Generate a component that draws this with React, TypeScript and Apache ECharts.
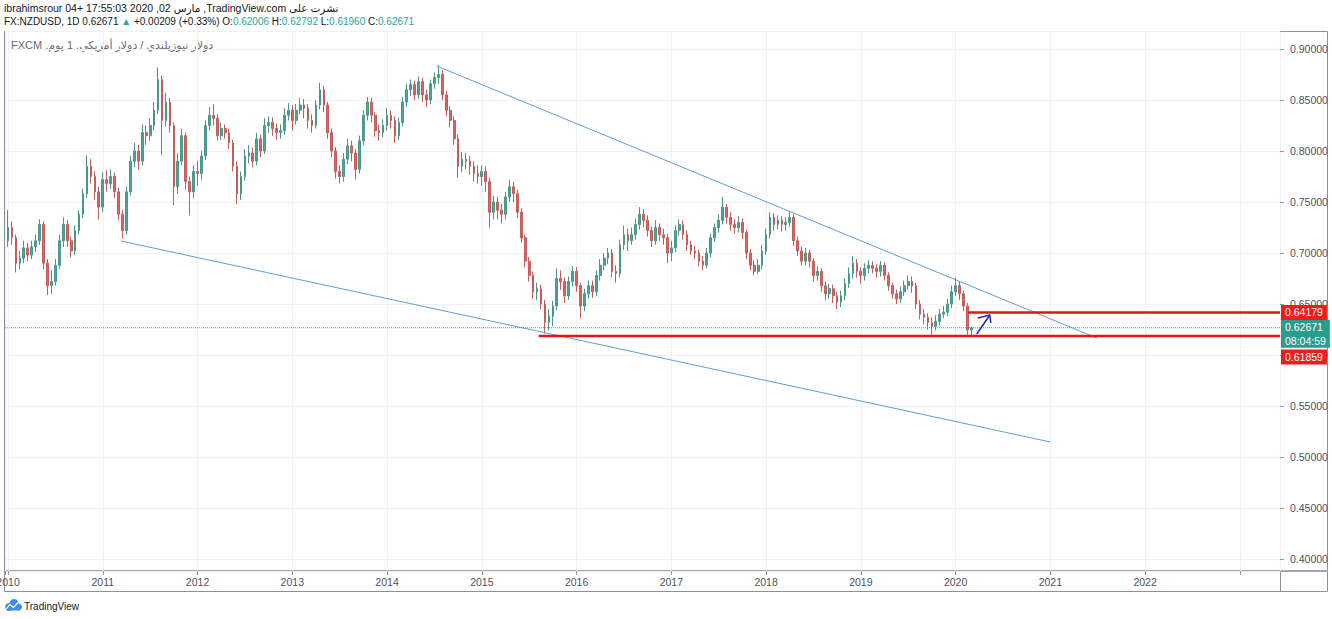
import React, { useEffect, useRef } from 'react';
import * as echarts from 'echarts';

// ---- data ----
const startYear = 2010;
const candlesPerYear = 24; // half-month candles
const firstOpen = 0.712;
// [close, low, high] per half-month candle
const y2010 = [[0.725,0.706,0.742],[0.715,0.708,0.731],[0.690,0.681,0.718],[0.695,0.684,0.702],[0.705,0.690,0.712],[0.698,0.692,0.710],[0.706,0.694,0.712],[0.712,0.701,0.718],[0.728,0.708,0.733],[0.690,0.684,0.731],[0.668,0.659,0.694],[0.672,0.660,0.683],[0.688,0.668,0.694],[0.712,0.684,0.718],[0.728,0.706,0.735],[0.712,0.706,0.732],[0.702,0.696,0.716],[0.722,0.698,0.727],[0.738,0.718,0.742],[0.758,0.734,0.763],[0.785,0.754,0.796],[0.775,0.768,0.792],[0.760,0.752,0.780],[0.745,0.733,0.765]];
const y2011 = [[0.772,0.740,0.779],[0.768,0.760,0.781],[0.775,0.763,0.782],[0.760,0.754,0.779],[0.738,0.732,0.764],[0.722,0.714,0.742],[0.760,0.718,0.765],[0.790,0.756,0.795],[0.800,0.784,0.808],[0.790,0.782,0.806],[0.818,0.786,0.826],[0.815,0.806,0.825],[0.825,0.810,0.832],[0.840,0.820,0.848],[0.870,0.836,0.882],[0.830,0.796,0.874],[0.848,0.824,0.857],[0.825,0.818,0.852],[0.765,0.747,0.828],[0.790,0.758,0.798],[0.815,0.786,0.822],[0.770,0.762,0.818],[0.760,0.737,0.775],[0.780,0.754,0.786]];
const y2012 = [[0.778,0.766,0.790],[0.795,0.772,0.800],[0.825,0.791,0.830],[0.835,0.820,0.843],[0.832,0.825,0.846],[0.815,0.810,0.836],[0.822,0.811,0.828],[0.818,0.812,0.826],[0.808,0.802,0.822],[0.785,0.780,0.811],[0.758,0.748,0.790],[0.775,0.752,0.780],[0.795,0.771,0.802],[0.798,0.788,0.806],[0.790,0.784,0.803],[0.812,0.786,0.818],[0.800,0.794,0.816],[0.825,0.797,0.832],[0.828,0.818,0.834],[0.822,0.815,0.833],[0.818,0.811,0.827],[0.820,0.812,0.826],[0.835,0.816,0.842],[0.840,0.830,0.847]];
const y2013 = [[0.830,0.820,0.845],[0.840,0.826,0.846],[0.845,0.836,0.852],[0.842,0.832,0.851],[0.830,0.822,0.846],[0.825,0.818,0.836],[0.845,0.822,0.850],[0.860,0.841,0.867],[0.845,0.838,0.864],[0.818,0.812,0.848],[0.800,0.794,0.822],[0.780,0.773,0.804],[0.775,0.768,0.786],[0.792,0.770,0.798],[0.805,0.787,0.812],[0.798,0.790,0.810],[0.782,0.772,0.802],[0.810,0.778,0.815],[0.835,0.806,0.840],[0.848,0.830,0.853],[0.835,0.828,0.852],[0.820,0.814,0.838],[0.818,0.810,0.826],[0.825,0.813,0.831]];
const y2014 = [[0.835,0.820,0.842],[0.830,0.822,0.840],[0.815,0.808,0.834],[0.828,0.811,0.833],[0.848,0.824,0.853],[0.860,0.843,0.866],[0.865,0.854,0.870],[0.855,0.850,0.869],[0.868,0.851,0.873],[0.855,0.848,0.872],[0.850,0.843,0.860],[0.866,0.846,0.870],[0.872,0.861,0.877],[0.875,0.866,0.884],[0.855,0.850,0.879],[0.840,0.834,0.859],[0.830,0.823,0.844],[0.812,0.806,0.834],[0.785,0.774,0.816],[0.792,0.779,0.799],[0.790,0.782,0.798],[0.785,0.777,0.795],[0.778,0.770,0.790],[0.775,0.768,0.786]];
const y2015 = [[0.780,0.766,0.786],[0.770,0.760,0.785],[0.740,0.725,0.774],[0.750,0.733,0.756],[0.742,0.733,0.755],[0.738,0.729,0.748],[0.755,0.733,0.760],[0.765,0.750,0.772],[0.758,0.750,0.770],[0.740,0.734,0.762],[0.715,0.710,0.744],[0.692,0.686,0.718],[0.678,0.672,0.696],[0.662,0.655,0.682],[0.665,0.654,0.671],[0.650,0.645,0.669],[0.632,0.621,0.654],[0.638,0.624,0.645],[0.648,0.628,0.653],[0.675,0.644,0.685],[0.672,0.664,0.683],[0.658,0.651,0.676],[0.672,0.654,0.677],[0.682,0.667,0.687]];
const y2016 = [[0.668,0.662,0.686],[0.648,0.636,0.671],[0.660,0.643,0.665],[0.668,0.655,0.673],[0.662,0.656,0.673],[0.678,0.658,0.683],[0.688,0.673,0.694],[0.695,0.683,0.700],[0.700,0.689,0.705],[0.682,0.676,0.704],[0.680,0.671,0.688],[0.708,0.676,0.713],[0.718,0.703,0.727],[0.712,0.702,0.724],[0.718,0.708,0.725],[0.728,0.713,0.734],[0.738,0.723,0.745],[0.732,0.725,0.743],[0.722,0.716,0.737],[0.712,0.706,0.726],[0.725,0.708,0.732],[0.718,0.712,0.729],[0.715,0.708,0.724],[0.700,0.690,0.719]];
const y2017 = [[0.705,0.692,0.712],[0.722,0.701,0.727],[0.728,0.717,0.733],[0.718,0.713,0.732],[0.708,0.702,0.722],[0.702,0.698,0.712],[0.700,0.694,0.707],[0.692,0.687,0.703],[0.688,0.683,0.697],[0.700,0.685,0.705],[0.715,0.696,0.719],[0.725,0.711,0.729],[0.732,0.720,0.738],[0.745,0.728,0.755],[0.735,0.729,0.748],[0.728,0.722,0.740],[0.725,0.719,0.733],[0.730,0.720,0.736],[0.720,0.714,0.734],[0.700,0.694,0.723],[0.688,0.683,0.704],[0.682,0.678,0.693],[0.688,0.679,0.694],[0.702,0.684,0.708]];
const y2018 = [[0.718,0.698,0.724],[0.735,0.714,0.740],[0.728,0.722,0.739],[0.732,0.723,0.737],[0.728,0.721,0.736],[0.730,0.722,0.735],[0.735,0.726,0.741],[0.712,0.707,0.738],[0.702,0.697,0.716],[0.692,0.688,0.706],[0.700,0.688,0.705],[0.692,0.686,0.703],[0.678,0.672,0.695],[0.682,0.673,0.687],[0.668,0.662,0.685],[0.660,0.654,0.672],[0.665,0.655,0.670],[0.658,0.651,0.669],[0.652,0.645,0.662],[0.658,0.647,0.663],[0.670,0.654,0.675],[0.680,0.666,0.686],[0.690,0.675,0.697],[0.682,0.676,0.694]];
const y2019 = [[0.678,0.670,0.686],[0.685,0.673,0.690],[0.688,0.680,0.693],[0.685,0.680,0.692],[0.682,0.676,0.689],[0.688,0.677,0.692],[0.678,0.673,0.691],[0.668,0.663,0.681],[0.660,0.655,0.671],[0.655,0.650,0.664],[0.662,0.651,0.667],[0.668,0.658,0.673],[0.672,0.664,0.678],[0.668,0.661,0.677],[0.650,0.645,0.671],[0.640,0.635,0.654],[0.637,0.630,0.645],[0.632,0.625,0.641],[0.628,0.620,0.637],[0.633,0.624,0.639],[0.640,0.629,0.645],[0.642,0.636,0.648],[0.650,0.638,0.655],[0.662,0.646,0.668]];
const y2020 = [[0.668,0.658,0.676],[0.660,0.654,0.672],[0.648,0.643,0.663],[0.6246,0.620,0.651],[0.62671,0.6196,0.62792]];

const upperTrend = [[2014.525, 0.8833], [2021.49, 0.6167]];
const lowerTrend = [[2011.19, 0.7118], [2021.0, 0.5147]];
const resistance = 0.64179;
const resistanceFrom = 2020.13;
const support = 0.61859;
const supportFrom = 2015.6;
const lastPrice = 0.62671;
const countdown = '08:04:59';
const arrowShaft = [[2020.224, 0.6206], [2020.362, 0.6392]];
const arrowHead = [[2020.235, 0.6363], [2020.362, 0.6392], [2020.372, 0.6314]];

const X_MIN = 2009.968;
const X_MAX = 2023.424;
const Y_MIN = 0.38824;
const Y_MAX = 0.91765;
const LAST_YEAR_LABEL = 2022;

const headerLine1 = '\u202Bنشرت على TradingView.com, مارس 02, 2020 17:55:03 +04 ibrahimsrour\u202C';
const headerLine2 = 'FX:NZDUSD, 1D 0.62671 {t|▲} +0.00209 (+0.33%) O:{t|0.62006} H:{t|0.62792} L:{t|0.61960} C:{t|0.62671}';
const legendText = '\u202Bدولار نيوزيلندي / دولار أمريكي, 1 يوم, FXCM\u202C';

const FONT = "'Liberation Sans', 'DejaVu Sans', sans-serif";

export default function App() {
  const ref = useRef<HTMLDivElement>(null);
  useEffect(() => {
    document.body.style.margin = '0';
    if (!ref.current) return;
    const chart = echarts.init(ref.current, undefined, { renderer: 'svg' });
    const all = [...y2010, ...y2011, ...y2012, ...y2013, ...y2014, ...y2015, ...y2016, ...y2017, ...y2018, ...y2019, ...y2020];
    let prev = firstOpen;
    const candles = all.map((d, i) => {
      const o = prev;
      prev = d[0];
      return [startYear + i / candlesPerYear, o, d[0], d[1], d[2]];
    });
    const isMult = (v: number, s: number) => Math.abs(v / s - Math.round(v / s)) < 1e-6;
    const hline = (name: string, from: number, value: number, color: string, width: number, type: string, label: any) => ({
      name,
      type: 'line',
      data: [[from, value], [X_MAX, value]],
      symbol: 'none',
      silent: true,
      z: 5,
      lineStyle: { color, width, type },
      endLabel: label,
    });
    const option: any = {
      animation: false,
      textStyle: { fontFamily: FONT },
      grid: { left: 5, right: 52, top: 31, bottom: 48, containLabel: false, outerBoundsMode: 'none' },
      xAxis: {
        type: 'value', min: X_MIN, max: X_MAX, minInterval: 1, maxInterval: 1, splitNumber: 13,
        axisLine: { show: false },
        axisTick: { show: true, length: 4, lineStyle: { color: '#9598a1' } },
        axisLabel: {
          color: '#4c525e', fontSize: 10.5, margin: 5, hideOverlap: false,
          formatter: (v: number) => (isMult(v, 1) && v <= LAST_YEAR_LABEL ? String(Math.round(v)) : ''),
        },
        splitLine: { show: true, lineStyle: { color: '#eef1f6', width: 1 } },
      },
      yAxis: {
        type: 'value', position: 'right', min: Y_MIN, max: Y_MAX, minInterval: 0.05, maxInterval: 0.05, splitNumber: 10,
        axisLine: { show: false },
        axisTick: { show: true, length: 4, lineStyle: { color: '#9598a1' } },
        axisLabel: {
          color: '#4c525e', fontSize: 10.5, margin: 10,
          formatter: (v: number) => (isMult(v, 0.05) ? v.toFixed(5) : ''),
        },
        splitLine: { show: true, lineStyle: { color: '#eef1f6', width: 1 } },
      },
      series: [
        {
          name: 'NZDUSD',
          type: 'candlestick',
          data: candles,
          dimensions: ['t', 'open', 'close', 'lowest', 'highest'],
          encode: { x: 't', y: ['open', 'close', 'lowest', 'highest'] },
          barWidth: 2.2,
          itemStyle: { color: '#4fa596', color0: '#e06363', borderColor: '#4a978a', borderColor0: '#c35d5b', borderWidth: 1 },
        },
        { name: 'upperTrend', type: 'line', data: upperTrend, symbol: 'none', silent: true, lineStyle: { color: '#5e9fd8', width: 1 } },
        { name: 'lowerTrend', type: 'line', data: lowerTrend, symbol: 'none', silent: true, lineStyle: { color: '#5e9fd8', width: 1 } },
        hline('last', X_MIN, lastPrice, '#26a69a', 1, 'dotted', {
          show: true, formatter: lastPrice.toFixed(5) + '\n' + countdown, color: '#fff', fontSize: 10.5, lineHeight: 13.5,
          backgroundColor: '#2a9d8f', padding: [1, 4, 0, 4], distance: 1, offset: [0, 6],
        }),
        hline('resistance', resistanceFrom, resistance, '#e51414', 2.5, 'solid', {
          show: true, formatter: resistance.toFixed(5), color: '#fff', fontSize: 10.5, lineHeight: 13,
          backgroundColor: '#ef1c1c', padding: [1, 4, 1, 4], distance: 1,
        }),
        hline('support', supportFrom, support, '#e51414', 2.5, 'solid', {
          show: true, formatter: support.toFixed(5), color: '#fff', fontSize: 10.5, lineHeight: 13,
          backgroundColor: '#ef1c1c', padding: [1, 4, 1, 4], distance: 1, offset: [0, 21],
        }),
        { name: 'arrowShaft', type: 'line', data: arrowShaft, symbol: 'none', silent: true, z: 6, lineStyle: { color: '#1f2bb0', width: 1.5 } },
        { name: 'arrowHead', type: 'line', data: arrowHead, symbol: 'none', silent: true, z: 6, lineStyle: { color: '#1f2bb0', width: 1.5 } },
      ],
      graphic: [
        { type: 'rect', silent: true, shape: { x: 4.5, y: 31.5, width: 1323, height: 560 }, style: { fill: 'none', stroke: '#8e9099', lineWidth: 1 } },
        { type: 'line', silent: true, shape: { x1: 4, y1: 571, x2: 1328, y2: 571 }, style: { stroke: '#a3a6af', lineWidth: 2 } },
        { type: 'line', silent: true, shape: { x1: 1280.5, y1: 31, x2: 1280.5, y2: 592 }, style: { stroke: '#8e9099', lineWidth: 1 } },
        { type: 'text', silent: true, style: { x: 4, y: 8, text: headerLine1, fill: '#131722', fontSize: 10.5, fontFamily: FONT, verticalAlign: 'middle' } },
        {
          type: 'text', silent: true,
          style: { x: 4, y: 21, text: headerLine2, fill: '#131722', fontSize: 10, fontFamily: FONT, verticalAlign: 'middle', rich: { t: { fill: '#26a69a', fontSize: 10, fontFamily: FONT } } },
        },
        { type: 'text', silent: true, style: { x: 11, y: 45, text: legendText, fill: '#6a6d78', fontSize: 11, fontFamily: FONT, verticalAlign: 'middle' } },
        {
          type: 'group', silent: true, children: [
            { type: 'circle', shape: { cx: 9, cy: 607, r: 4 }, style: { fill: '#3f8fe6' } },
            { type: 'circle', shape: { cx: 14, cy: 603.5, r: 4.5 }, style: { fill: '#3f8fe6' } },
            { type: 'circle', shape: { cx: 18.5, cy: 607, r: 3.5 }, style: { fill: '#3f8fe6' } },
            { type: 'rect', shape: { x: 9, y: 606, width: 9.5, height: 4.5 }, style: { fill: '#3f8fe6' } },
            { type: 'polyline', shape: { points: [[6, 609], [10, 604.5], [13.5, 607.5], [18, 602.5]] }, style: { stroke: '#ffffff', lineWidth: 1.2, fill: 'none' } },
          ],
        },
        { type: 'text', silent: true, style: { x: 24, y: 606, text: 'TradingView', fill: '#131722', fontSize: 10, fontFamily: FONT, verticalAlign: 'middle' } },
      ],
    };
    chart.setOption(option);
    return () => chart.dispose();
  }, []);
  return <div ref={ref} style={{ width: 1332, height: 619 }} />;
}
